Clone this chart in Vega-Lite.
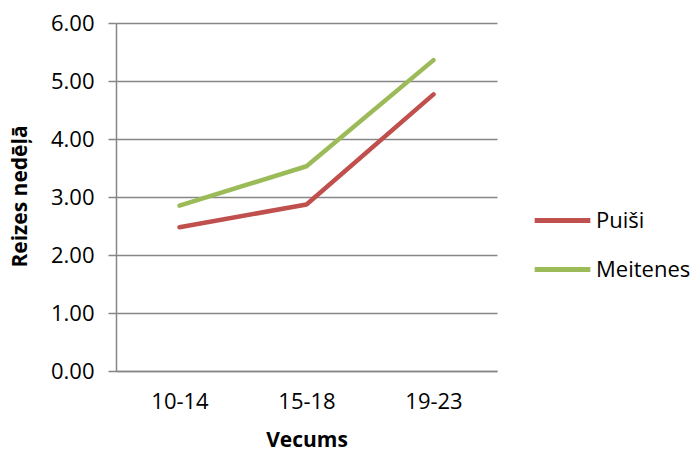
{
  "$schema": "https://vega.github.io/schema/vega-lite/v6.json",
  "autosize": {"type": "none"},
  "width": 381,
  "height": 348,
  "padding": {"left": 116, "top": 23, "right": 200, "bottom": 84},
  "background": "white",
  "config": {
    "font": "Open Sans",
    "view": {"stroke": null}
  },
  "data": {
    "values": [
      {"Vecums": "10-14", "series": "Puiši", "value": 2.48},
      {"Vecums": "15-18", "series": "Puiši", "value": 2.87},
      {"Vecums": "19-23", "series": "Puiši", "value": 4.77},
      {"Vecums": "10-14", "series": "Meitenes", "value": 2.85},
      {"Vecums": "15-18", "series": "Meitenes", "value": 3.53},
      {"Vecums": "19-23", "series": "Meitenes", "value": 5.36}
    ]
  },
  "mark": {"type": "line", "strokeWidth": 4.5, "strokeCap": "round", "strokeJoin": "round"},
  "encoding": {
    "x": {
      "field": "Vecums",
      "type": "nominal",
      "sort": null,
      "scale": {"type": "point", "padding": 0.5},
      "axis": {
        "title": "Vecums",
        "labelAngle": 0,
        "labelFontSize": 22,
        "labelColor": "#000000",
        "labelPadding": 20,
        "ticks": false,
        "domainColor": "#868686",
        "domainWidth": 1.5,
        "titleFontSize": 21,
        "titleFontWeight": "bold",
        "titleColor": "#000000",
        "titlePadding": 17,
        "grid": false
      }
    },
    "y": {
      "field": "value",
      "type": "quantitative",
      "scale": {"domain": [0, 6], "nice": false},
      "axis": {
        "title": "Reizes nedēļā",
        "values": [0, 1, 2, 3, 4, 5, 6],
        "format": ".2f",
        "labelFontSize": 22,
        "labelColor": "#000000",
        "labelPadding": 14,
        "tickSize": 8,
        "tickColor": "#868686",
        "tickWidth": 1.5,
        "domainColor": "#868686",
        "domainWidth": 1.5,
        "gridColor": "#868686",
        "gridWidth": 1.5,
        "titleFontSize": 21,
        "titleFontWeight": "bold",
        "titleColor": "#000000",
        "titleX": -96,
        "titleY": 173,
        "titleAngle": -90,
        "titleAlign": "center",
        "titleBaseline": "middle"
      }
    },
    "color": {
      "field": "series",
      "type": "nominal",
      "scale": {"domain": ["Puiši", "Meitenes"], "range": ["#C0504D", "#9BBB59"]},
      "legend": {
        "title": null,
        "orient": "none",
        "legendX": 416,
        "legendY": 167,
        "symbolType": "stroke",
        "symbolSize": 3100,
        "symbolStrokeWidth": 5,
        "labelFontSize": 22,
        "labelColor": "#000000",
        "labelOffset": 3,
        "rowPadding": 7
      }
    }
  }
}
